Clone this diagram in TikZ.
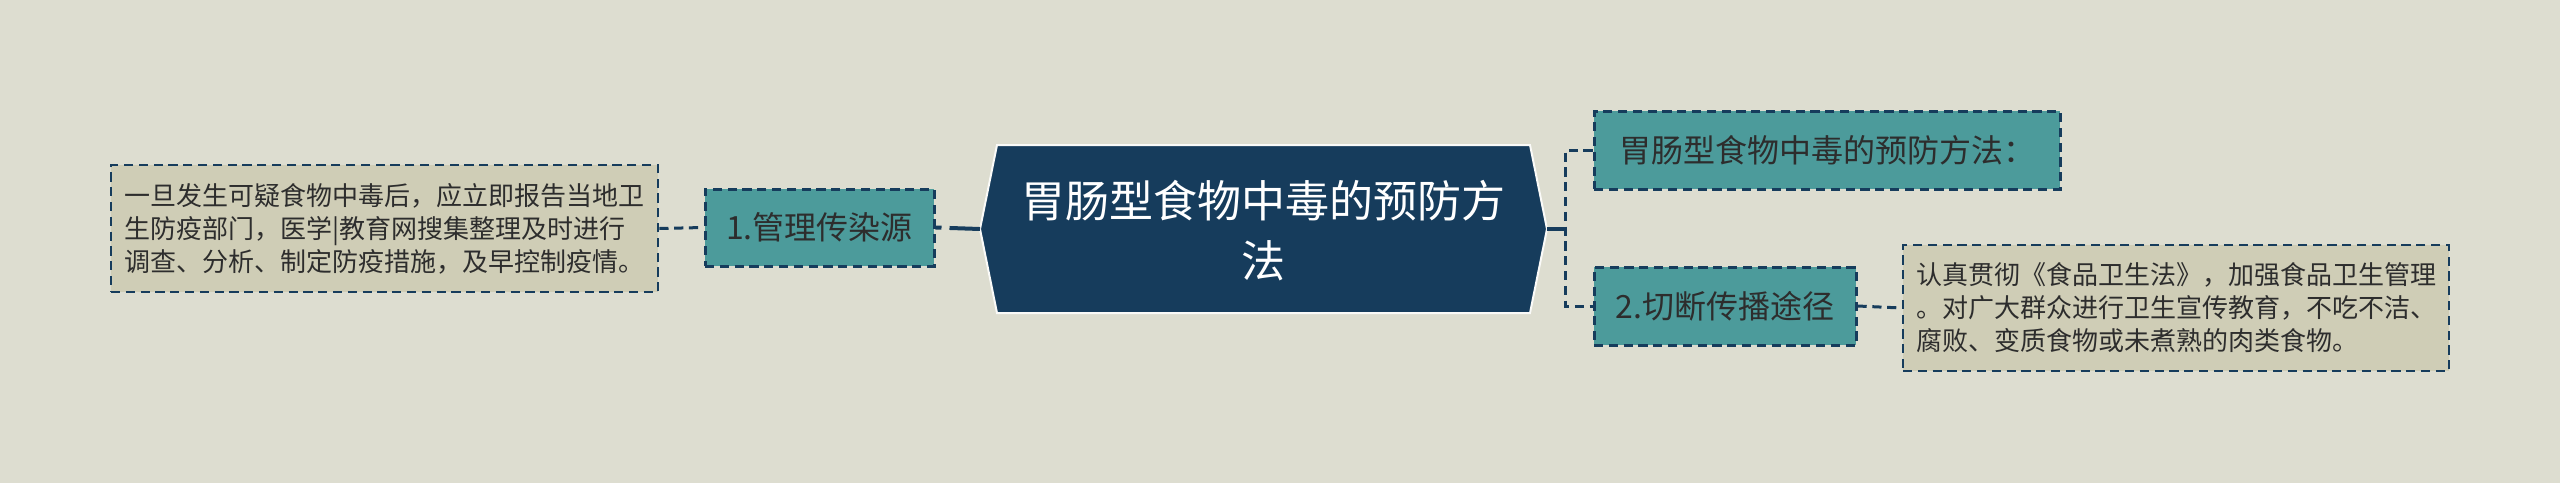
\documentclass[tikz,border=0pt]{standalone}
\usepackage{fontspec}
\setmainfont{Noto Sans CJK SC}
\definecolor{bgc}{RGB}{221,221,208}
\definecolor{navy}{RGB}{22,60,92}
\definecolor{tealc}{RGB}{76,155,155}
\definecolor{sand}{RGB}{207,205,182}
\definecolor{inkc}{RGB}{45,45,45}
\tikzset{
  dashb/.style={dash pattern=on 4.6pt off 2.8pt},
  subnode/.style={draw=navy, fill=tealc, dashb, line width=1.5pt, text=inkc,
    font=\fontsize{16}{20}\selectfont, inner sep=0pt, anchor=center},
  leafnode/.style={draw=navy, fill=sand, dashb, line width=1.3pt, text=inkc,
    font=\fontsize{13}{16.5}\selectfont, align=left, inner sep=0pt, anchor=center},
  dline/.style={draw=navy, line width=1.5pt, dashb},
  sline/.style={draw=navy, line width=2pt},
}
\begin{document}
\begin{tikzpicture}[x=0.5pt,y=-0.5pt]
\useasboundingbox[fill=bgc] (0,0) rectangle (2560,483);
% central hexagon
\fill[navy, draw=white!85!bgc, line width=1pt]
  (980,229) coordinate (cL) -- (997,145) -- (1530,145) -- (1547,229) coordinate (cR)
  -- (1530,313) -- (997,313) -- cycle;
\node[text=white, align=center, font=\fontsize{22}{30}\selectfont] (c) at (1263.5,231)
  {胃肠型食物中毒的预防方\\法};
% left branch
\node[subnode, minimum width=114.5pt, minimum height=38.5pt] (n1) at (819.5,227.5) {1.管理传染源};
\node[leafnode, minimum width=273.5pt, minimum height=63.5pt] (t1) at (384.5,228.5)
  {一旦发生可疑食物中毒后，应立即报告当地卫\\生防疫部门，医学|教育网搜集整理及时进行\\调查、分析、制定防疫措施，及早控制疫情。};
% right branch
\node[subnode, minimum width=233pt, minimum height=39pt] (r1) at (1827,150) {胃肠型食物中毒的预防方法：};
\node[subnode, minimum width=131pt, minimum height=39pt] (r2) at (1725,306) {2.切断传播途径};
\node[leafnode, minimum width=273pt, minimum height=63pt] (t2) at (2176,308)
  {认真贯彻《食品卫生法》，加强食品卫生管理\\。对广大群众进行卫生宣传教育，不吃不洁、\\腐败、变质食物或未煮熟的肉类食物。};
% connectors
\draw[sline, dash pattern=on 3pt off 4pt on 20pt off 0pt] (n1.east) -- (cL);
\draw[dline] (t1.east) -- (n1.west);
\coordinate (bj) at (1567,229);
\draw[sline] (cR) -- (bj);
\draw[dline] (r1.west) -- ++(-27,0) |- (r2.west);
\draw[dline] (r2.east) -- (t2.west);
\end{tikzpicture}
\end{document}
